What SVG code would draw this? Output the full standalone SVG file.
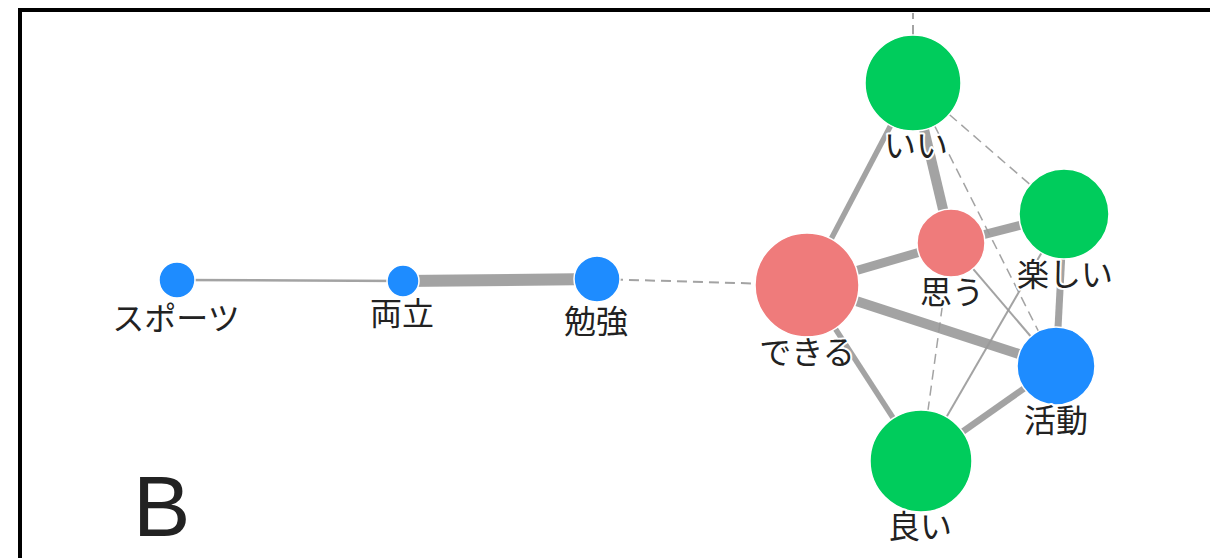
<svg xmlns="http://www.w3.org/2000/svg" width="1210" height="558" viewBox="0 0 1210 558">
<style>
.e{stroke:#999;stroke-opacity:0.9;fill:none}
.d{stroke-dasharray:10 6}
.n{stroke:#fff;stroke-width:1.5}
.g{fill:#00CC5C}
.r{fill:#EF7B7B}
.b{fill:#1E8CFF}
.l{font-family:"Noto Sans CJK JP","Noto Sans",sans-serif;font-size:32px;fill:#222;text-anchor:middle;stroke:#fff;stroke-width:4;paint-order:stroke;stroke-linejoin:round}
</style>
<rect x="0" y="0" width="1210" height="558" fill="#fff"/>
<path d="M20 560 V10 H1212" fill="none" stroke="#000" stroke-width="4"/>
<text x="133" y="536" font-family="'Liberation Sans',Arial,sans-serif" font-size="86" fill="#222">B</text>
<g id="connectors">
<line class="e" x1="177" y1="280" x2="403" y2="281" stroke-width="2.5"/>
<line class="e" x1="403" y1="281" x2="597" y2="279" stroke-width="12"/>
<line class="e d" x1="597" y1="279" x2="807" y2="285" stroke-width="2"/>
<line class="e d" x1="913" y1="83" x2="913" y2="13" stroke-width="2"/>
<line class="e" x1="913" y1="83" x2="807" y2="285" stroke-width="5.5"/>
<line class="e" x1="913" y1="83" x2="951" y2="243" stroke-width="10"/>
<line class="e d" x1="913" y1="83" x2="1064" y2="214" stroke-width="1.5"/>
<line class="e d" x1="913" y1="83" x2="1056" y2="366" stroke-width="1.5"/>
<line class="e" x1="807" y1="285" x2="951" y2="243" stroke-width="9"/>
<line class="e" x1="951" y1="243" x2="1064" y2="214" stroke-width="9"/>
<line class="e" x1="807" y1="285" x2="1056" y2="366" stroke-width="10"/>
<line class="e" x1="807" y1="285" x2="921" y2="461" stroke-width="5.5"/>
<line class="e" x1="951" y1="243" x2="1056" y2="366" stroke-width="2"/>
<line class="e d" x1="951" y1="243" x2="921" y2="461" stroke-width="1.5"/>
<line class="e" x1="1064" y1="214" x2="921" y2="461" stroke-width="2"/>
<line class="e" x1="1064" y1="214" x2="1056" y2="366" stroke-width="7"/>
<line class="e" x1="1056" y1="366" x2="921" y2="461" stroke-width="6.5"/>
</g>
<g id="node-sports"><circle class="n b" cx="177" cy="280" r="18"/><text class="l" x="176" y="330">スポーツ</text></g>
<g id="node-ryoritsu"><circle class="n b" cx="403" cy="281" r="16"/><text class="l" x="402" y="325">両立</text></g>
<g id="node-benkyo"><circle class="n b" cx="597" cy="279" r="23"/><text class="l" x="596" y="333">勉強</text></g>
<g id="node-dekiru"><circle class="n r" cx="807" cy="285" r="52"/><text class="l" x="807" y="364">できる</text></g>
<g id="node-ii"><circle class="n g" cx="913" cy="83" r="48"/><text class="l" x="916" y="157">いい</text></g>
<g id="node-omou"><circle class="n r" cx="951" cy="243" r="34"/><text class="l" x="952" y="304">思う</text></g>
<g id="node-tanoshii"><circle class="n g" cx="1064" cy="214" r="45"/><text class="l" x="1065" y="286">楽しい</text></g>
<g id="node-katsudo"><circle class="n b" cx="1056" cy="366" r="39"/><text class="l" x="1056" y="432">活動</text></g>
<g id="node-yoi"><circle class="n g" cx="921" cy="461" r="51"/><text class="l" x="920" y="538">良い</text></g>
</svg>
